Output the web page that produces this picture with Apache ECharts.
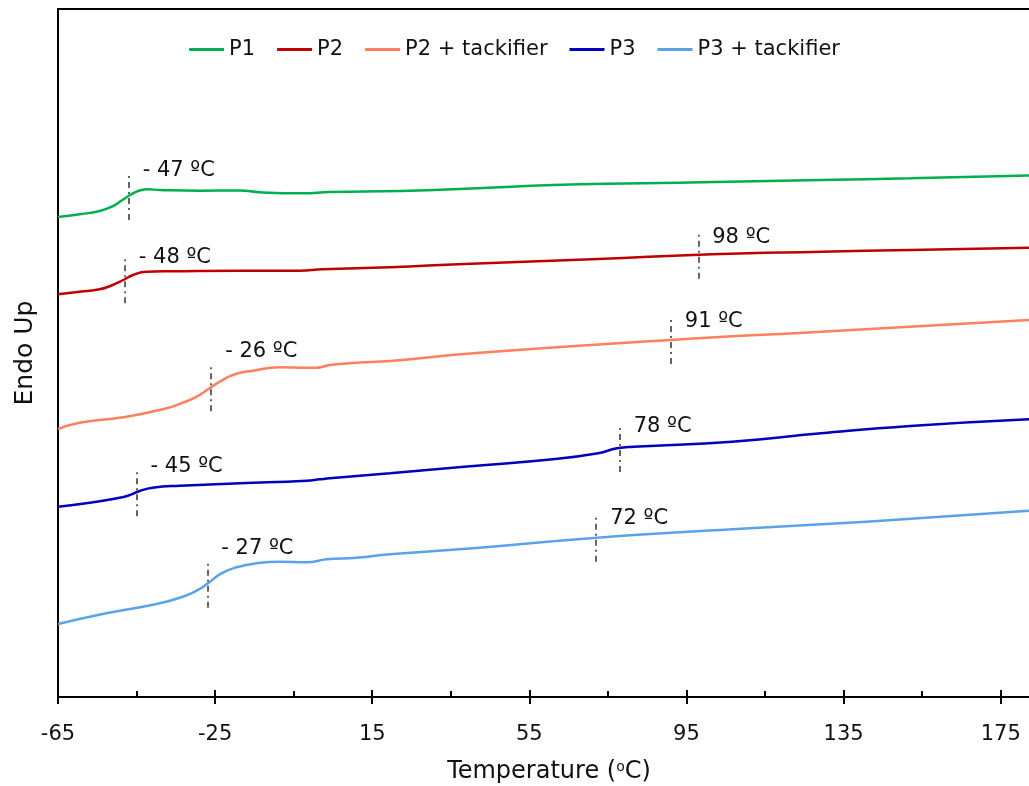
<!DOCTYPE html>
<html>
<head>
<meta charset="utf-8">
<script src="https://cdn.jsdelivr.net/npm/echarts@6.0.0/dist/echarts.min.js"></script>
<style>
  html, body { margin: 0; padding: 0; background: #fff; }
  #chart { width: 1029px; height: 786px; }
</style>
</head>
<body>
<div id="chart"></div>
<script>
// DSC heating scans, endotherm up; heat flow in arbitrary units (curves are offset)
const seriesNames = ['P1', 'P2', 'P2 + tackifier', 'P3', 'P3 + tackifier'];
const seriesColors = ['#00B050', '#C00000', '#FF7F5F', '#0000C0', '#5BA3E8'];

// [temperature in °C, heat flow]
const curveP1 = [[-65,480],[-59.5,482.7],[-54.4,486],[-51.3,490.3],[-48.8,496.5],[-46.2,503],[-44.2,506.5],[-42.1,507.7],[-39.1,507],[-28.9,506.3],[-18.7,506.5],[-13.6,504.7],[-2.6,503.7],[4.2,505],[22.3,506],[41.7,508.7],[61.0,512],[83.8,513.7],[102.1,515],[129.3,517],[152,518.7],[182.3,521.5]];
const curveP2 = [[-65,402.7],[-59.5,405.3],[-54.4,407.7],[-51.1,412],[-48.4,417],[-45.9,422],[-42.5,425.3],[-35.8,425.7],[-18.7,426.3],[-3.5,426.3],[2.4,427.7],[19.5,429.7],[38.4,433],[72.5,438],[101.5,442.7],[129.3,445.3],[152,447],[182.3,449.3]];
const curveP2T = [[-65,268],[-59.5,274.3],[-48.5,279.7],[-38.3,287.7],[-33.2,294.3],[-29.7,300.3],[-26.8,307.7],[-23.8,315.3],[-20.5,322],[-15.4,326.3],[-8.5,329.7],[-1.7,329.3],[0.8,329.3],[4.2,332],[11.0,334.3],[19.5,336],[40.7,343.7],[91.0,357],[129.3,365.3],[182.3,377]];
const curveP3 = [[-65,190.3],[-56.9,194.3],[-50.1,198.7],[-47.2,201.3],[-44.2,206],[-40.9,209.3],[-34.0,211.3],[-18.7,213.7],[-1.7,216.3],[1.7,217.7],[4.2,218.7],[19.5,223.7],[38.4,230.3],[61.0,237.7],[72.5,243.7],[77.3,248.7],[81.6,250.3],[106.6,255.3],[129.3,263.7],[152,271],[182.3,277.7]];
const curveP3T = [[-65,73],[-52.7,83.7],[-39.9,93],[-33.2,100.3],[-29.7,106.3],[-26.8,113.7],[-23.4,123.7],[-19.5,129.7],[-14.5,133.7],[-8.5,135.3],[-1.7,134.7],[3.4,137.7],[11.0,139.3],[19.5,142.7],[40.7,148.7],[72.2,159.3],[106.6,167.7],[140.8,175.3],[182.3,186.3]];

// transition temperatures (°C) marked on each curve
const transP1 = [-47];
const transP2 = [-48, 98];
const transP2T = [-26, 91];
const transP3 = [-45, 78];
const transP3T = [-27, 72];

// x axis ticks
const tempMin = -65;
const tempMax = 185;
const tempStep = 40;

// marker geometry (heat-flow units) and label lift in px
const markerHalf = 24;
const labelLift = [[-25], [-22, -17], [-36, -18], [-26, -21], [-35, -19]];

const curves = [curveP1, curveP2, curveP2T, curveP3, curveP3T];
const transitions = [transP1, transP2, transP2T, transP3, transP3T];

const FONT = 'DejaVu Sans';

function valueAt(curve, t) {
  for (let i = 1; i < curve.length; i++) {
    const [x0, y0] = curve[i - 1];
    const [x1, y1] = curve[i];
    if (t >= x0 && t <= x1) return y0 + (y1 - y0) * (t - x0) / (x1 - x0);
  }
  return curve[curve.length - 1][1];
}

function tempText(t) {
  return (t < 0 ? '- ' + Math.abs(t) : String(t)) + ' ºC';
}

const series = curves.map((curve, i) => {
  const marks = transitions[i];
  return {
    name: seriesNames[i],
    type: 'line',
    data: curve,
    showSymbol: false,
    symbol: 'none',
    smooth: true,
    color: seriesColors[i],
    lineStyle: { width: 2.5, color: seriesColors[i] },
    z: 3,
    markLine: {
      silent: true,
      symbol: 'none',
      animation: false,
      label: { show: false },
      lineStyle: { color: '#333', width: 1.5, type: [6, 4, 2, 4] },
      data: marks.map(t => {
        const v = valueAt(curve, t);
        return [{ coord: [t, v - markerHalf] }, { coord: [t, v + markerHalf] }];
      })
    },
    markPoint: {
      silent: true,
      symbol: 'circle',
      symbolSize: 0,
      animation: false,
      data: marks.map((t, k) => ({
        coord: [t, valueAt(curve, t)],
        label: {
          show: true,
          position: 'right',
          distance: 0,
          offset: [14, labelLift[i][k]],
          formatter: tempText(t),
          color: '#111',
          fontFamily: FONT,
          fontSize: 21
        }
      }))
    }
  };
});

const axisBase = {
  type: 'value',
  min: tempMin,
  max: tempMax,
  interval: tempStep,
  position: 'bottom',
  splitLine: { show: false },
  axisLine: { show: true, onZero: false, lineStyle: { color: '#000', width: 2 } }
};

const option = {
  animation: false,
  backgroundColor: '#fff',
  grid: {
    left: 58, width: 982, top: 9, bottom: 89,
    outerBoundsMode: 'none',
    containLabel: false,
    show: true, borderColor: '#000', borderWidth: 2, backgroundColor: 'transparent'
  },
  legend: {
    data: seriesNames,
    top: 34,
    left: 'center',
    icon: 'rect',
    itemWidth: 35,
    itemHeight: 3,
    itemGap: 22,
    textStyle: { fontFamily: FONT, fontSize: 21, color: '#111' }
  },
  xAxis: [
    Object.assign({}, axisBase, {
      axisTick: { show: true, inside: false, length: 7, lineStyle: { color: '#000', width: 2 } },
      minorTick: { show: false },
      axisLabel: {
        show: true, margin: 27, color: '#111', fontFamily: FONT, fontSize: 21,
        showMaxLabel: false
      },
      name: 'Temperature ({sup|o}C)',
      nameLocation: 'middle',
      nameGap: 63,
      nameTextStyle: {
        fontFamily: FONT, fontSize: 24, color: '#111',
        rich: { sup: { fontFamily: FONT, fontSize: 14, color: '#111', padding: [0, 0, 10, 0] } }
      }
    }),
    Object.assign({}, axisBase, {
      axisTick: { show: true, inside: true, length: 7, lineStyle: { color: '#000', width: 2 } },
      minorTick: { show: true, splitNumber: 2, length: 6, lineStyle: { color: '#000', width: 2 } },
      axisLabel: { show: false }
    })
  ],
  yAxis: {
    type: 'value',
    min: 0,
    max: 688,
    axisLine: { show: true, onZero: false, lineStyle: { color: '#000', width: 2 } },
    axisTick: { show: false },
    axisLabel: { show: false },
    splitLine: { show: false },
    name: 'Endo Up',
    nameLocation: 'middle',
    nameRotate: 90,
    nameGap: 20,
    nameTextStyle: { fontFamily: FONT, fontSize: 25, color: '#111' }
  },
  series: series
};

const chart = echarts.init(document.getElementById('chart'), null, { renderer: 'canvas' });
chart.setOption(option);
</script>
</body>
</html>
